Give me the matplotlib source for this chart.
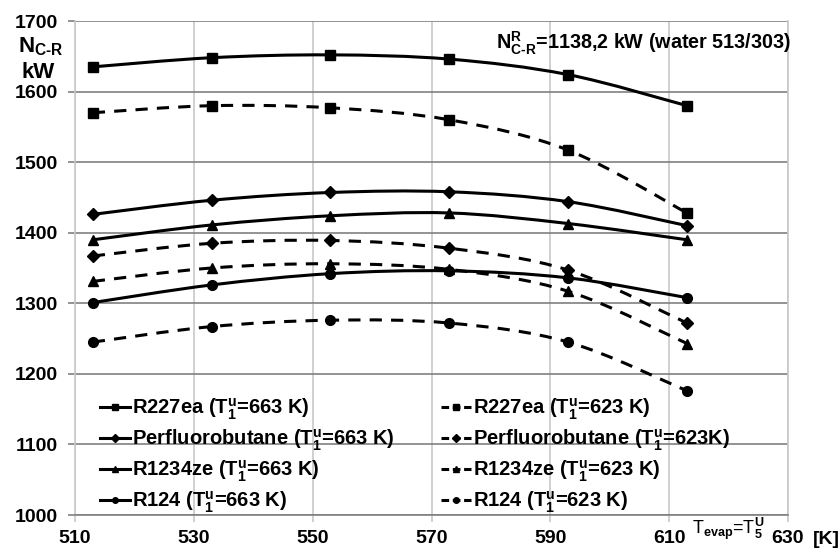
import matplotlib
matplotlib.use("Agg")
import matplotlib.pyplot as plt
from matplotlib.path import Path
from matplotlib.patches import PathPatch
from matplotlib.lines import Line2D
import numpy as np

plt.rcParams['font.family'] = ['Liberation Sans', 'DejaVu Sans']
plt.rcParams['font.weight'] = 'bold'
plt.rcParams['mathtext.fontset'] = 'custom'
plt.rcParams['mathtext.rm'] = 'Liberation Sans:bold'
plt.rcParams['mathtext.it'] = 'Liberation Sans:bold'
plt.rcParams['mathtext.bf'] = 'Liberation Sans:bold'
plt.rcParams['mathtext.default'] = 'rm'

t_evap = [513, 533, 553, 573, 593, 613]

r227ea_663 = [1635, 1648, 1652, 1646, 1624, 1580]
r227ea_623 = [1570, 1580, 1577, 1560, 1517, 1428]
pfb_663 = [1426, 1446, 1457, 1458, 1444, 1410]
pfb_623 = [1367, 1385, 1389, 1378, 1347, 1272]
r1234ze_663 = [1390, 1411, 1424, 1428, 1413, 1390]
r1234ze_623 = [1331, 1350, 1356, 1348, 1317, 1243]
r124_663 = [1301, 1326, 1342, 1346, 1336, 1308]
r124_623 = [1245, 1267, 1276, 1272, 1245, 1176]

# legend is column-major: 663 K curves in the left column, 623 K in the right
series = [
    (r227ea_663, 's', '-', r'R227ea (T$^{u}_{1}$=663 K)'),
    (pfb_663, 'D', '-', r'Perfluorobutane (T$^{u}_{1}$=663 K)'),
    (r1234ze_663, '^', '-', r'R1234ze (T$^{u}_{1}$=663 K)'),
    (r124_663, 'o', '-', r'R124 (T$^{u}_{1}$=663 K)'),
    (r227ea_623, 's', '--', r'R227ea (T$^{u}_{1}$=623 K)'),
    (pfb_623, 'D', '--', r'Perfluorobutane (T$^{u}_{1}$=623K)'),
    (r1234ze_623, '^', '--', r'R1234ze (T$^{u}_{1}$=623 K)'),
    (r124_623, 'o', '--', r'R124 (T$^{u}_{1}$=623 K)'),
]
msize = {'s': 6.5, 'D': 6.5, '^': 7.5, 'o': 7}

fig = plt.figure(figsize=(8.39, 5.49), dpi=100)
ax = fig.add_axes([75/839, 1-515/549, 713/839, 494/549])


def smooth_path(x, y):
    # excel-like smoothed line: bezier through the points
    pts = np.column_stack([x, y]).astype(float)
    n = len(pts)
    verts = [pts[0]]
    codes = [Path.MOVETO]
    for i in range(n - 1):
        p0 = pts[max(i - 1, 0)]
        p1 = pts[i]
        p2 = pts[i + 1]
        p3 = pts[min(i + 2, n - 1)]
        c1 = p1 + (p2 - p0) / 6
        c2 = p2 - (p3 - p1) / 6
        verts += [c1, c2, p2]
        codes += [Path.CURVE4] * 3
    return Path(verts, codes)


dash = (0, (4, 3))
handles = []
for vals, mk, ls, lab in series:
    lstyle = '-' if ls == '-' else dash
    ax.add_patch(PathPatch(smooth_path(t_evap, vals), fill=False, edgecolor='black',
                           lw=2.2, linestyle=lstyle, capstyle='butt', zorder=3))
    ax.plot(t_evap, vals, linestyle='none', marker=mk, color='black',
            markersize=msize[mk], zorder=4)
    handles.append(Line2D([], [], color='black', lw=2.2,
                          linestyle='-' if ls == '-' else (0, (2.5, 1.2)),
                          marker=mk, markersize=4, label=lab))

ax.set_xlim(510, 630)
ax.set_ylim(1000, 1700)
ax.set_xticks([510, 530, 550, 570, 590, 610, 630])
ax.set_yticks(range(1000, 1701, 100))
ax.grid(axis='y', color='#808080', lw=1.2, zorder=1)
ax.grid(axis='x', color='#c8c8c8', lw=1.2, zorder=1)
ax.spines['top'].set_visible(False)
ax.spines['right'].set_color('#c8c8c8')
ax.spines['left'].set_color('#c8c8c8')
ax.spines['bottom'].set_color('#808080')
for s in ['right', 'left', 'bottom']:
    ax.spines[s].set_linewidth(1.2)
ax.tick_params(axis='y', length=5, color='#808080', width=1.2, pad=7, labelsize=14)
ax.tick_params(axis='x', length=5, color='#c8c8c8', width=1.2, pad=6, labelsize=14)
for lbl in ax.get_xticklabels() + ax.get_yticklabels():
    lbl.set_fontweight('bold')

fig.text(41/839, 1-47/549, r'N$_{\text{C-R}}$', fontsize=16, ha='center', va='center')
fig.text(38/839, 1-72/549, 'kW', fontsize=16, ha='center', va='center')
fig.text(791/839, 1-43/549, r'N$^{R}_{\text{C-R}}$=1138,2 kW (water 513/303)',
         fontsize=14.2, ha='right', va='center')
fig.text(728/839, 1-529/549, r'T$_{\text{evap}}$=T$^{U}_{5}$', fontsize=13,
         ha='center', va='center', fontweight='normal')
fig.text(813/839, 1-540/549, '[K]', fontsize=14, ha='left', va='center')

leg = ax.legend(handles=handles, ncol=2, loc='upper left',
                bbox_to_anchor=((100-75)/713, (515-396)/494),
                frameon=False, fontsize=14.5, handlelength=1.5, handletextpad=0.1,
                labelspacing=0.28, columnspacing=2.3, borderaxespad=0, borderpad=0)

fig.savefig('out.png', dpi=100)
